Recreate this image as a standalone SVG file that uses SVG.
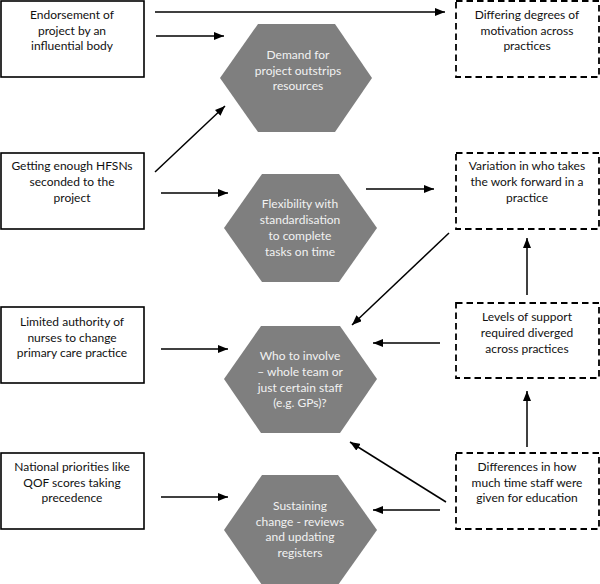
<svg xmlns="http://www.w3.org/2000/svg" width="600" height="584" viewBox="0 0 600 584">
<defs>
<style>
.box{fill:#fff;stroke:#000;stroke-width:1.6}
.dbox{fill:#fff;stroke:#000;stroke-width:1.8;stroke-dasharray:6.5,4}
.hex{fill:#7f7f7f;stroke:none}
text{font-family:Lato,"Open Sans","Liberation Sans",sans-serif;font-size:12px;text-anchor:middle}
.ht{fill:#f2f2f2}
.bt{fill:#111}
.con line{stroke:#000;stroke-width:1.5;marker-end:url(#ah)}
</style>
<marker id="ah" viewBox="0 0 10 8" refX="10" refY="4" markerWidth="10" markerHeight="8" markerUnits="userSpaceOnUse" orient="auto">
<path d="M0,0 L10,4 L0,8 z" fill="#000"/>
</marker>
</defs>
<rect width="600" height="584" fill="#fff"/>

<g id="box1"><rect class="box" x="1" y="1" width="143" height="76"/>
<text class="bt" x="72" y="19">Endorsement of</text><text class="bt" x="72" y="35">project by an</text><text class="bt" x="72" y="50">influential body</text></g>
<g id="box2"><rect class="box" x="1" y="153" width="143" height="76"/>
<text class="bt" x="72" y="170">Getting enough HFSNs</text><text class="bt" x="72" y="186">seconded to the</text><text class="bt" x="72" y="202">project</text></g>
<g id="box3"><rect class="box" x="1" y="307" width="143" height="76"/>
<text class="bt" x="72" y="326">Limited authority of</text><text class="bt" x="72" y="342">nurses to change</text><text class="bt" x="72" y="357">primary care practice</text></g>
<g id="box4"><rect class="box" x="1" y="453" width="143" height="76"/>
<text class="bt" x="72" y="471">National priorities like</text><text class="bt" x="72" y="487">QOF scores taking</text><text class="bt" x="72" y="502">precedence</text></g>

<g id="hex1"><polygon class="hex" points="220,78 258,24 335,24 372,78 335,132 258,132"/>
<text class="ht" x="298" y="59">Demand for</text><text class="ht" x="298" y="75">project outstrips</text><text class="ht" x="298" y="90">resources</text></g>
<g id="hex2"><polygon class="hex" points="224,228 262,174 339,174 377,228 339,282 262,282"/>
<text class="ht" x="300" y="208">Flexibility with</text><text class="ht" x="300" y="224">standardisation</text><text class="ht" x="300" y="240">to complete</text><text class="ht" x="300" y="256">tasks on time</text></g>
<g id="hex3"><polygon class="hex" points="224,379 261,326 340,326 377,379 340,433 261,433"/>
<text class="ht" x="300" y="360">Who to involve</text><text class="ht" x="300" y="376">– whole team or</text><text class="ht" x="300" y="392">just certain staff</text><text class="ht" x="300" y="407">(e.g. GPs)?</text></g>
<g id="hex4"><polygon class="hex" points="224,530 262,475 338,475 377,530 338,585 262,585"/>
<text class="ht" x="300" y="510">Sustaining</text><text class="ht" x="300" y="526">change - reviews</text><text class="ht" x="300" y="541">and updating</text><text class="ht" x="300" y="557">registers</text></g>

<g id="boxA"><rect class="dbox" x="456" y="1" width="143" height="76"/>
<text class="bt" x="527" y="19">Differing degrees of</text><text class="bt" x="527" y="35">motivation across</text><text class="bt" x="527" y="50">practices</text></g>
<g id="boxB"><rect class="dbox" x="456" y="153" width="143" height="76"/>
<text class="bt" x="527" y="170">Variation in who takes</text><text class="bt" x="527" y="186">the work forward in a</text><text class="bt" x="527" y="202">practice</text></g>
<g id="boxC"><rect class="dbox" x="456" y="303" width="143" height="75"/>
<text class="bt" x="527" y="321">Levels of support</text><text class="bt" x="527" y="337">required diverged</text><text class="bt" x="527" y="353">across practices</text></g>
<g id="boxD"><rect class="dbox" x="456" y="453" width="143" height="76"/>
<text class="bt" x="527" y="471">Differences in how</text><text class="bt" x="527" y="487">much time staff were</text><text class="bt" x="527" y="502">given for education</text></g>

<g id="connectors" class="con">
<line x1="155" y1="12" x2="445" y2="12"/>
<line x1="156" y1="36" x2="224" y2="36"/>
<line x1="155" y1="172" x2="225" y2="106"/>
<line x1="161" y1="193" x2="228" y2="193"/>
<line x1="366" y1="189" x2="434" y2="189"/>
<line x1="449" y1="233" x2="352" y2="325"/>
<line x1="527" y1="295" x2="527" y2="238"/>
<line x1="440" y1="343" x2="373" y2="343"/>
<line x1="527" y1="447" x2="527" y2="391"/>
<line x1="446" y1="502" x2="350" y2="442"/>
<line x1="440" y1="510" x2="373" y2="510"/>
<line x1="161" y1="349" x2="228" y2="349"/>
<line x1="161" y1="497" x2="228" y2="497"/>
</g>
</svg>
